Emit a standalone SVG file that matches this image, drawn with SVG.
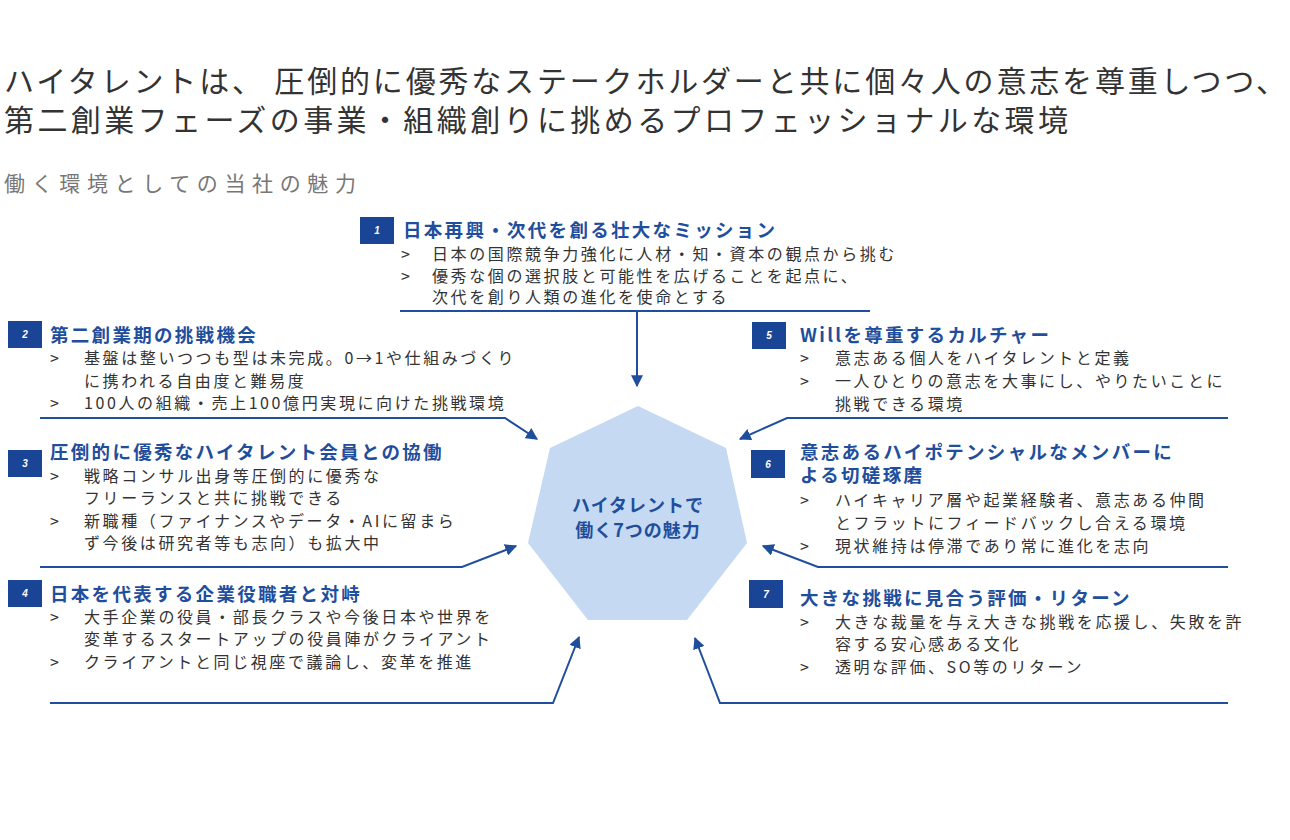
<svg xmlns="http://www.w3.org/2000/svg" width="1290" height="840" viewBox="0 0 1290 840">
<style>
text{font-family:"Noto Sans CJK JP","Liberation Sans",sans-serif}
.t{font-size:30px;fill:#333}
.s{font-size:21px;fill:#777}
.h{font-size:18.5px;font-weight:bold;fill:#1f4e9c;letter-spacing:2.3px}
.b{font-size:16px;fill:#333;letter-spacing:2.6px}
.n{font-size:10px;font-weight:bold;fill:#fff;font-style:italic;text-anchor:middle;font-family:"Liberation Sans",sans-serif}
.bg{fill:#1a4496}
.c{fill:none;stroke:#1f4e9c;stroke-width:2}
</style>
<defs><marker id="a" viewBox="0 0 10 10" refX="9" refY="5" markerWidth="6" markerHeight="6" orient="auto"><path d="M0,0L10,5L0,10z" fill="#1f4e9c"/></marker></defs>
<rect width="1290" height="840" fill="#fff"/>
<text class="t" x="4" y="92" textLength="1282" lengthAdjust="spacing">ハイタレントは、 圧倒的に優秀なステークホルダーと共に個々人の意志を尊重しつつ、</text>
<text class="t" x="4" y="131" textLength="1064" lengthAdjust="spacing">第二創業フェーズの事業・組織創りに挑めるプロフェッショナルな環境</text>
<text class="s" x="4" y="191" textLength="352" lengthAdjust="spacing">働く環境としての当社の魅力</text>
<g id="center"><polygon points="638,406 726,448 747,543 687,620 588,620 528,543 550,448" fill="#c5d9f3"/>
<text x="638" y="512" text-anchor="middle" font-size="18" font-weight="bold" fill="#1f4e9c" letter-spacing="1">ハイタレントで</text>
<text x="638" y="537" text-anchor="middle" font-size="18" font-weight="bold" fill="#1f4e9c" letter-spacing="1">働く7つの魅力</text></g>
<g id="connectors">
<path class="c" d="M400,311H870M637,311V386" marker-end="url(#a)"/>
<path class="c" d="M40,418H505L537,439" marker-end="url(#a)"/>
<path class="c" d="M40,567H462L516,546" marker-end="url(#a)"/>
<path class="c" d="M50,703H553L579,637" marker-end="url(#a)"/>
<path class="c" d="M1228,418H787L740,439" marker-end="url(#a)"/>
<path class="c" d="M1228,567H818L763,546" marker-end="url(#a)"/>
<path class="c" d="M1228,703H720L695,638" marker-end="url(#a)"/>
</g>
<g id="n1"><rect class="bg" x="360" y="217" width="34" height="27"/><text class="n" x="377" y="234">1</text>
<text class="h" x="403" y="237">日本再興・次代を創る壮大なミッション</text>
<text class="b" x="401" y="260">&gt;</text><text class="b" x="432" y="260">日本の国際競争力強化に人材・知・資本の観点から挑む</text>
<text class="b" x="401" y="282">&gt;</text><text class="b" x="432" y="282">優秀な個の選択肢と可能性を広げることを起点に、</text>
<text class="b" x="432" y="303">次代を創り人類の進化を使命とする</text></g>
<g id="n2"><rect class="bg" x="8" y="321" width="34" height="27"/><text class="n" x="25" y="338">2</text>
<text class="h" x="50" y="342">第二創業期の挑戦機会</text>
<text class="b" x="50" y="364">&gt;</text><text class="b" x="84" y="364">基盤は整いつつも型は未完成。0→1や仕組みづくり</text>
<text class="b" x="84" y="387">に携われる自由度と難易度</text>
<text class="b" x="50" y="409">&gt;</text><text class="b" x="84" y="409">100人の組織・売上100億円実現に向けた挑戦環境</text></g>
<g id="n3"><rect class="bg" x="8" y="450" width="34" height="27"/><text class="n" x="25" y="467">3</text>
<text class="h" x="50" y="459">圧倒的に優秀なハイタレント会員との協働</text>
<text class="b" x="50" y="482">&gt;</text><text class="b" x="84" y="482">戦略コンサル出身等圧倒的に優秀な</text>
<text class="b" x="84" y="504">フリーランスと共に挑戦できる</text>
<text class="b" x="50" y="527">&gt;</text><text class="b" x="84" y="527">新職種（ファイナンスやデータ・AIに留まら</text>
<text class="b" x="84" y="549">ず今後は研究者等も志向）も拡大中</text></g>
<g id="n4"><rect class="bg" x="8" y="580" width="34" height="27"/><text class="n" x="25" y="597">4</text>
<text class="h" x="50" y="601">日本を代表する企業役職者と対峙</text>
<text class="b" x="50" y="623">&gt;</text><text class="b" x="84" y="623">大手企業の役員・部長クラスや今後日本や世界を</text>
<text class="b" x="84" y="645">変革するスタートアップの役員陣がクライアント</text>
<text class="b" x="50" y="668">&gt;</text><text class="b" x="84" y="668">クライアントと同じ視座で議論し、変革を推進</text></g>
<g id="n5"><rect class="bg" x="752" y="322" width="34" height="27"/><text class="n" x="769" y="339">5</text>
<text class="h" x="800" y="342">Willを尊重するカルチャー</text>
<text class="b" x="800" y="364">&gt;</text><text class="b" x="835" y="364">意志ある個人をハイタレントと定義</text>
<text class="b" x="800" y="387">&gt;</text><text class="b" x="835" y="387">一人ひとりの意志を大事にし、やりたいことに</text>
<text class="b" x="835" y="410">挑戦できる環境</text></g>
<g id="n6"><rect class="bg" x="751" y="450" width="34" height="28"/><text class="n" x="768" y="468">6</text>
<text class="h" x="800" y="459">意志あるハイポテンシャルなメンバーに</text>
<text class="h" x="800" y="482">よる切磋琢磨</text>
<text class="b" x="800" y="506">&gt;</text><text class="b" x="835" y="506">ハイキャリア層や起業経験者、意志ある仲間</text>
<text class="b" x="835" y="529">とフラットにフィードバックし合える環境</text>
<text class="b" x="800" y="552">&gt;</text><text class="b" x="835" y="552">現状維持は停滞であり常に進化を志向</text></g>
<g id="n7"><rect class="bg" x="749" y="580" width="34" height="28"/><text class="n" x="766" y="598">7</text>
<text class="h" x="800" y="605">大きな挑戦に見合う評価・リターン</text>
<text class="b" x="800" y="628">&gt;</text><text class="b" x="835" y="628">大きな裁量を与え大きな挑戦を応援し、失敗を許</text>
<text class="b" x="835" y="650">容する安心感ある文化</text>
<text class="b" x="800" y="673">&gt;</text><text class="b" x="835" y="673">透明な評価、SO等のリターン</text></g>
</svg>
